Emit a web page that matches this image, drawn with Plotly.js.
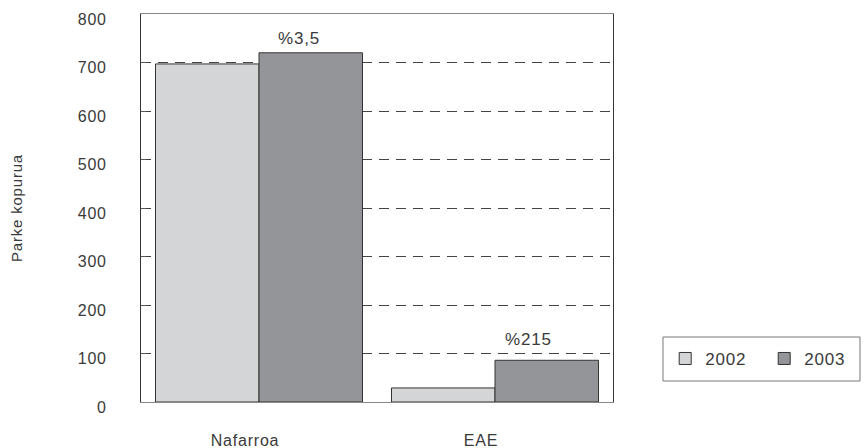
<!DOCTYPE html>
<html>
<head>
<meta charset="utf-8">
<script src="https://cdn.plot.ly/plotly-3.0.1.min.js"></script>
<style>
  html, body { margin: 0; padding: 0; background: #fff; }
  #chart { width: 864px; height: 448px; }
  /* slightly open tracking for all chart text */
  svg text { letter-spacing: 0.8px; }
</style>
</head>
<body>
<div id="chart"></div>
<script>
// Regions compared
const categories = ['Nafarroa', 'EAE'];
// Fleet size per year
const values2002 = [697, 29];
const values2003 = [720, 86];
// Year-on-year change labels (placed above the 2003 bars)
const changeLabels = ['%3,5', '%215'];
const yTicks = [0, 100, 200, 300, 400, 500, 600, 700, 800];

const FAMILY = 'Liberation Sans, Arial, sans-serif';
const INK = '#3a3a3a';
const BARGAP = 0.123;

// label nudges in px (horizontal, vertical)
const labelDx = [-12, -18];
const labelDy = [3, 9];

const traces = [
  {
    type: 'bar', name: '2002', x: categories, y: values2002,
    marker: { color: '#d4d5d7', line: { color: '#333333', width: 1 } },
    hoverinfo: 'skip'
  },
  {
    type: 'bar', name: '2003', x: categories, y: values2003,
    marker: { color: '#939598', line: { color: '#333333', width: 1 } },
    hoverinfo: 'skip'
  }
];

// the 2003 bar sits half a bar-width right of the category centre
const barOffset = (1 - BARGAP) / 4;
const annotations = changeLabels.map((t, i) => ({
  x: i + barOffset, y: values2003[i], xref: 'x', yref: 'y',
  text: t, showarrow: false, xanchor: 'center', yanchor: 'bottom',
  xshift: labelDx[i], yshift: labelDy[i],
  font: { family: FAMILY, color: INK, size: 17 }
}));

const layout = {
  width: 864, height: 448,
  margin: { l: 141, r: 251, t: 14, b: 46, autoexpand: false },
  paper_bgcolor: '#ffffff', plot_bgcolor: '#ffffff',
  font: { family: FAMILY, color: INK, size: 16 },
  barmode: 'group', bargap: BARGAP, bargroupgap: 0,
  showlegend: true,
  legend: {
    orientation: 'h', x: 1.1106, y: 0.111, xanchor: 'left', yanchor: 'middle',
    borderwidth: 0, bgcolor: 'rgba(0,0,0,0)',
    font: { family: FAMILY, color: INK, size: 17 },
    itemwidth: 30, entrywidth: 54, traceorder: 'normal'
  },
  shapes: [{
    // legend frame
    type: 'rect', xref: 'paper', yref: 'paper',
    x0: 1.1059, x1: 1.5233, y0: 0.0541, y1: 0.1675,
    line: { color: '#777777', width: 1 }, fillcolor: 'rgba(0,0,0,0)', layer: 'below'
  }],
  annotations: annotations,
  xaxis: {
    type: 'category', range: [-0.5, 1.5],
    showline: true, linecolor: '#888888', linewidth: 1, mirror: true,
    showgrid: false, ticks: '', ticklabelstandoff: 24, ticklabelshift: -14,
    tickfont: { family: FAMILY, color: INK, size: 16 },
    fixedrange: true
  },
  yaxis: {
    range: [0, 800], tickvals: yTicks, ticktext: yTicks.map(String),
    showline: true, linecolor: '#333333', linewidth: 1, mirror: true,
    ticks: 'inside', ticklen: 5, tickcolor: '#555555',
    showgrid: true, gridcolor: '#444444', gridwidth: 1, griddash: '10px,7px',
    zeroline: false, ticklabelstandoff: 30, ticklabelshift: 5,
    tickfont: { family: FAMILY, color: INK, size: 16 },
    title: { text: 'Parke kopurua', standoff: 51, font: { family: FAMILY, color: INK, size: 15 } },
    fixedrange: true
  }
};

Plotly.newPlot('chart', traces, layout, { staticPlot: true, displayModeBar: false });
</script>
</body>
</html>
